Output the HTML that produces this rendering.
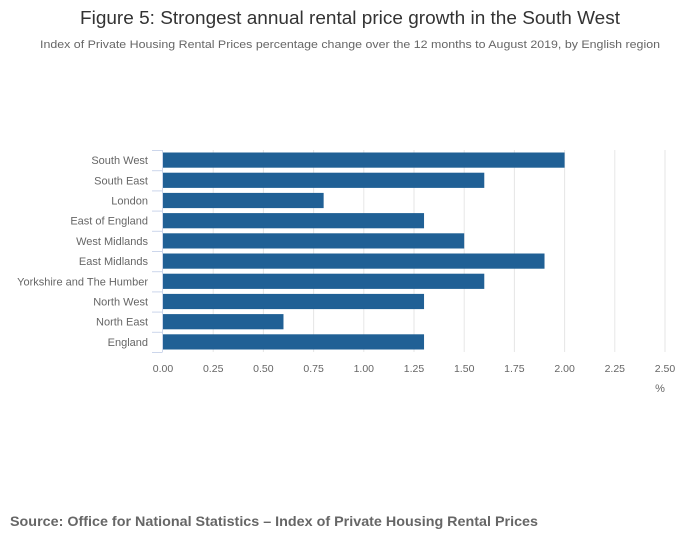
<!DOCTYPE html>
<html><head><meta charset="utf-8"><style>
html,body{margin:0;padding:0;background:#fff;}
svg{display:block;font-family:"Liberation Sans",sans-serif;}
</style></head><body>
<svg id="chart" width="700" height="549" viewBox="0 0 700 549">
<text x="350" y="24" text-anchor="middle" font-size="18" fill="#333" textLength="540" lengthAdjust="spacingAndGlyphs">Figure 5: Strongest annual rental price growth in the South West</text>
<text x="350" y="48" text-anchor="middle" font-size="11" fill="#666" textLength="620" lengthAdjust="spacingAndGlyphs">Index of Private Housing Rental Prices percentage change over the 12 months to August 2019, by English region</text>
<g id="grid"></g>
<g id="bars"></g>
<g id="yaxis"></g>
<g id="xaxis"></g>
<text x="660" y="392" text-anchor="middle" font-size="11" fill="#666">%</text>
<text x="10" y="526" font-size="14" font-weight="bold" fill="#666" textLength="528" lengthAdjust="spacingAndGlyphs">Source: Office for National Statistics – Index of Private Housing Rental Prices</text>
</svg>
<script>
const categories = ["South West","South East","London","East of England","West Midlands","East Midlands","Yorkshire and The Humber","North West","North East","England"];
const values = [2.0,1.6,0.8,1.3,1.5,1.9,1.6,1.3,0.6,1.3];
const xTicks = [0,0.25,0.5,0.75,1.0,1.25,1.5,1.75,2.0,2.25,2.5];
const xTickLabels = ["0.00","0.25","0.50","0.75","1.00","1.25","1.50","1.75","2.00","2.25","2.50"];

const NS="http://www.w3.org/2000/svg";
const x0=163, x1=665, yTop=150, yBottom=352;
const xMax=2.5;
const band=(yBottom-yTop)/categories.length;
function xs(v){return x0+(x1-x0)*v/xMax;}
function ys(i){return yTop+i*band;}
function mk(tag,attrs,parent){const e=document.createElementNS(NS,tag);for(const k in attrs)e.setAttribute(k,attrs[k]);parent.appendChild(e);return e;}
const grid=document.getElementById('grid'),bars=document.getElementById('bars'),yax=document.getElementById('yaxis'),xax=document.getElementById('xaxis');
xTicks.forEach((t,i)=>{
  if(i>0){const g=mk('line',{x1:xs(t),x2:xs(t),y1:yTop,y2:yBottom,stroke:'#e6e6e6','stroke-width':1},grid);
  
  }
  const l=mk('text',{x:xs(t),y:372,'text-anchor':'middle','font-size':10.5,fill:'#666'},xax);
  l.textContent=xTickLabels[i];
  
  
});
values.forEach((v,i)=>{
  const r=mk('rect',{x:x0,y:ys(i)+2.5,width:xs(v)-x0,height:band-5,fill:'#206095'},bars);
  
  
  const l=mk('text',{x:148,y:ys(i)+band/2+4,'text-anchor':'end','font-size':11,fill:'#666'},yax);
  l.textContent=categories[i];
  
  
});
const ax=mk('line',{x1:162.5,x2:162.5,y1:yTop,y2:yBottom,stroke:'#ccd6eb'},yax);


for(let i=0;i<=categories.length;i++){
  const t=mk('line',{x1:152,x2:162.5,y1:ys(i)+0.5,y2:ys(i)+0.5,stroke:'#ccd6eb'},yax);
  
  
}
</script>
</body></html>
